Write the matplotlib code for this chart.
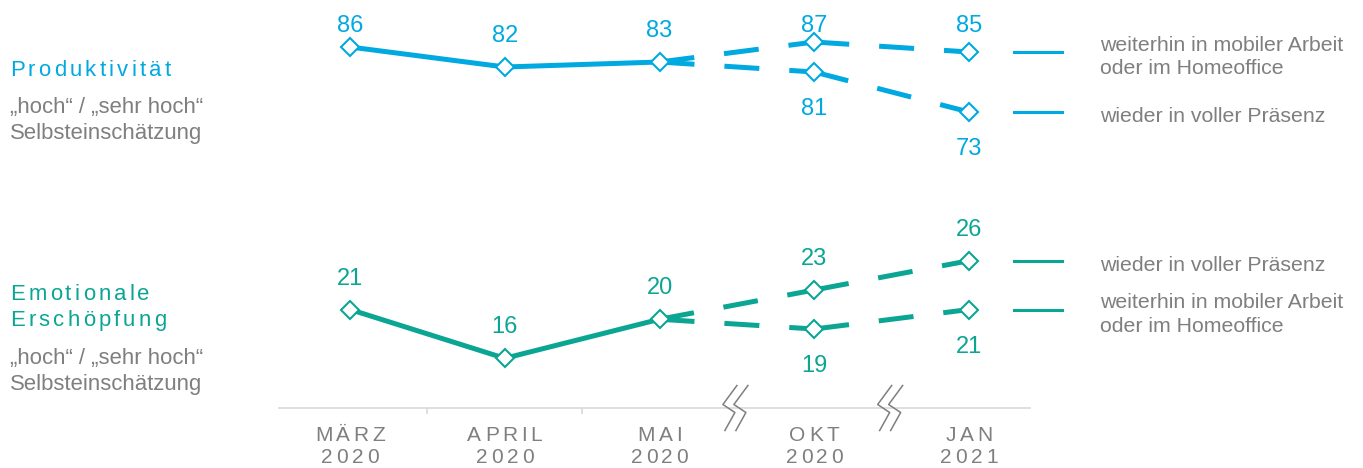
import matplotlib
matplotlib.use("Agg")
import matplotlib.pyplot as plt
from matplotlib.lines import Line2D
from matplotlib.transforms import IdentityTransform
from matplotlib.font_manager import FontProperties

plt.rcParams["font.family"] = ["Liberation Sans", "DejaVu Sans"]

# --- data -------------------------------------------------------------
months = ["MÄRZ\n2020", "APRIL\n2020", "MAI\n2020", "OKT\n2020", "JAN\n2021"]

prod_solid = [86, 82, 83]          # März..Mai
prod_mobil = [83, 87, 85]          # Mai..Jan, weiterhin mobil / Homeoffice
prod_praesenz = [83, 81, 73]       # Mai..Jan, wieder in Präsenz

ersch_solid = [21, 16, 20]
ersch_praesenz = [20, 23, 26]
ersch_mobil = [20, 19, 21]

lbl_mobil = "weiterhin in mobiler Arbeit\noder im Homeoffice"
lbl_praesenz = "wieder in voller Präsenz"
lbl_scale = "„hoch“ / „sehr hoch“\nSelbsteinschätzung"

BLUE = "#00A9E0"
TEAL = "#0BA594"
GRAY = "#7F7F7F"
AXIS = "#D9D9D9"

W, H = 1363, 468
fig = plt.figure(figsize=(W / 100, H / 100), dpi=100)
renderer = fig.canvas.get_renderer()


def px_axes(left, top, right, bottom):
    return fig.add_axes([left / W, 1 - bottom / H, (right - left) / W, (bottom - top) / H])


def to_px(ax, x, y):
    dx, dy = ax.transData.transform((x, y))
    return dx, H - dy


def tracked(x, y, s, size, color, ha="left", track=3.2, step=26):
    """letter-spaced text; x,y in pixels from top-left, y = centre of first line"""
    prop = FontProperties(family=["Liberation Sans"], size=size)
    em = size * 100 / 72
    for k, line in enumerate(s.split("\n")):
        widths = [renderer.get_text_width_height_descent(ch, prop, ismath=False)[0]
                  for ch in line]
        total = sum(widths) + track * (len(line) - 1)
        cx = x - total / 2 if ha == "center" else x
        base = y + k * step + 0.358 * em
        for ch, w in zip(line, widths):
            fig.text(cx / W, 1 - base / H, ch, fontproperties=prop, color=color,
                     ha="left", va="baseline")
            cx += w + track


ax_top = px_axes(279, 0, 1030, 180)
ax_bot = px_axes(279, 220, 1030, 407.5)
ax_top.set_ylim(59.4, 95.4)
ax_bot.set_ylim(10.96, 30.17)
for ax in (ax_top, ax_bot):
    ax.set_xlim(-0.459, 4.394)
    ax.set_facecolor("none")
    for s in ax.spines.values():
        s.set_visible(False)
    ax.set_yticks([])
ax_top.set_xticks([])


def value_label(ax, x, v, dy, color):
    px, py = to_px(ax, x, v)
    py = max(py + dy, 26)
    fig.text(px / W, 1 - py / H, str(v), ha="center", va="center", fontsize=17, color=color)


def draw_panel(ax, color, solid, upper, lower, leg_upper, leg_lower):
    xs = [0, 1, 2]
    xb = [2, 3, 4]
    ax.plot(xs, solid, color=color, lw=3.6, solid_capstyle="butt", zorder=2, clip_on=False)
    for branch in (upper, lower):
        for i in range(2):
            ax.plot(xb[i:i + 2], branch[i:i + 2], color=color, lw=3.6,
                    dashes=(7, 6), dash_capstyle="butt", zorder=2, clip_on=False)
    for xx, yy in ((xs, solid), (xb[1:], upper[1:]), (xb[1:], lower[1:])):
        ax.plot(xx, yy, ls="none", marker="D", ms=8.8, mfc="white", mec=color,
                mew=1.5, zorder=3, clip_on=False)
    for xx, yy in ((xs, solid), (xb[1:], upper[1:])):
        for x, v in zip(xx, yy):
            value_label(ax, x, v, -31, color)
    for x, v in zip(xb[1:], lower[1:]):
        value_label(ax, x, v, 37, color)
    # legend swatches next to the last values
    for v, lbl in ((upper[-1], leg_upper), (lower[-1], leg_lower)):
        ax.plot([4.291, 4.601], [v, v], color=color, lw=2.2, clip_on=False)
        ax.annotate(lbl, (4.847, v), xytext=(0, -5), textcoords="offset pixels",
                    ha="left", va="center", fontsize=15.3, color=GRAY, linespacing=1.27,
                    annotation_clip=False)


draw_panel(ax_top, BLUE, prod_solid, prod_mobil, prod_praesenz, lbl_mobil, lbl_praesenz)
draw_panel(ax_bot, TEAL, ersch_solid, ersch_praesenz, ersch_mobil, lbl_praesenz, lbl_mobil)

# x axis
ax_bot.spines["bottom"].set_visible(True)
ax_bot.spines["bottom"].set_color(AXIS)
ax_bot.spines["bottom"].set_linewidth(1.2)
ax_bot.set_xticks([])
ax_bot.set_xticks([0.5, 1.5], minor=True)
ax_bot.tick_params(axis="x", which="minor", length=4, width=1.2, color=AXIS)
for i, m in enumerate(months):
    px, _ = to_px(ax_bot, i, ax_bot.get_ylim()[0])
    tracked(px, 433.5, m, 15, GRAY, ha="center", track=3.6, step=22)

# axis break marks between MAI/OKT and OKT/JAN
stroke = [(0, -22), (-14, -3), (-2, 5), (-12, 23)]
for xm in (2.5, 3.5):
    cx, cy = ax_bot.transData.transform((xm, ax_bot.get_ylim()[0]))
    for dx in (0, 11):
        fig.add_artist(Line2D([cx + dx + p[0] for p in stroke],
                              [cy - p[1] for p in stroke],
                              color=GRAY, lw=1.1, transform=IdentityTransform()))

# left labels
tracked(10, 68, "Produktivität", 15.9, BLUE)
fig.text(10 / W, 1 - 97 / H, lbl_scale, color=GRAY, fontsize=15.9,
         ha="left", va="top", linespacing=1.3)
tracked(10, 292, "Emotionale\nErschöpfung", 15.9, TEAL, step=26)
fig.text(10 / W, 1 - 348 / H, lbl_scale, color=GRAY, fontsize=15.9,
         ha="left", va="top", linespacing=1.3)

fig.savefig("out.png", dpi=100, facecolor="white")
